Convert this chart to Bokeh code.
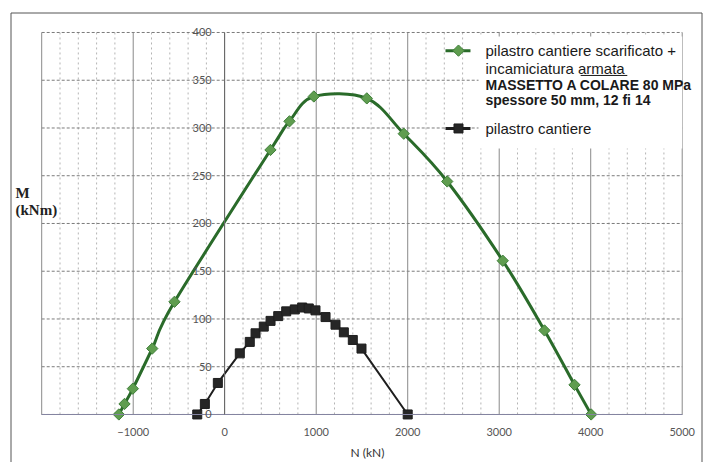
from bokeh.plotting import figure
from bokeh.models import LinearAxis, FixedTicker, Label
from bokeh.embed import file_html
from bokeh.resources import INLINE

# ---------------- data ----------------
green_N = [-1157, -1095, -1004, -792, -549, 500, 708, 974, 1553, 1957, 2432, 3039, 3495, 3823, 4005]
green_M = [0, 11, 27, 69, 118, 277, 307, 333, 331, 294, 244, 161, 88, 31, 0]

black_N = [-300, -217, -75, 165, 274, 337, 427, 501, 585, 672, 766, 847, 919, 992,
           1102, 1211, 1302, 1400, 1495, 2000]
black_M = [0, 11, 33, 64, 76, 85, 92, 98, 103, 108, 110, 112, 111, 109,
           102, 94, 86, 78, 69, 0]

x_tick_labels = [-1000, 0, 1000, 2000, 3000, 4000, 5000]
x_major_grid = [-2000, -1000, 0, 1000, 2000, 3000, 4000, 5000]
x_minor_grid = [v for v in range(-2000, 5001, 200) if v % 1000 != 0]
y_ticks = [0, 50, 100, 150, 200, 250, 300, 350, 400]
N_MIN, N_MAX = -2000, 5000
M_MIN, M_MAX = 0, 400

green_label_lines = ["pilastro cantiere scarificato +", "incamiciatura armata",
                     "MASSETTO A COLARE 80 MPa", "spessore 50 mm, 12 fi 14"]
black_label = "pilastro cantiere"

GREEN_LINE = "#2a6b2a"
GREEN_FILL = "#5f9d4f"
BLACK = "#1e1e1e"

# the frame covers the whole canvas; the chart box -2000..5000 x 0..400 sits inside it
p = figure(width=706, height=462, x_range=(-2450.3, 5265.5), y_range=(-50.3, 433.5),
           output_backend="svg", toolbar_location=None,
           x_axis_location=None, y_axis_location=None,
           min_border=0, min_border_left=0, min_border_right=0,
           min_border_top=0, min_border_bottom=0,
           background_fill_color="white", border_fill_color="white",
           outline_line_color=None)
p.grid.visible = False

# outer frame of the picture
p.quad(left=[-2335.5], right=[5216.4], bottom=[-70], top=[420.4],
       fill_color=None, line_color="#555555", line_width=1)

# grid lines
p.segment(x0=x_minor_grid, y0=[M_MIN] * len(x_minor_grid), x1=x_minor_grid, y1=[M_MAX] * len(x_minor_grid),
          line_color="#b4b4b4", line_dash="2 3", line_width=1)
p.segment(x0=[N_MIN] * len(y_ticks), y0=y_ticks, x1=[N_MAX] * len(y_ticks), y1=y_ticks,
          line_color="#7c7c7c", line_dash="3 2", line_width=1)
p.segment(x0=x_major_grid, y0=[M_MIN] * len(x_major_grid), x1=x_major_grid, y1=[M_MAX] * len(x_major_grid),
          line_color="#8a8a8a", line_width=1)

# axes through the origin
yaxis = LinearAxis(fixed_location=0, bounds=(M_MIN, M_MAX), ticker=FixedTicker(ticks=y_ticks),
                   axis_line_color="#6a6a6a", major_tick_line_color=None, minor_tick_line_color=None,
                   major_label_text_font="Lato", major_label_text_font_size="11px",
                   major_label_text_color="#555555", major_label_standoff=7)
p.add_layout(yaxis, "left")
xaxis = LinearAxis(fixed_location=0, bounds=(N_MIN, N_MAX), ticker=FixedTicker(ticks=x_tick_labels),
                   axis_line_color="#8484a0", major_tick_line_color=None, minor_tick_line_color=None,
                   major_label_text_font="Lato", major_label_text_font_size="11px",
                   major_label_text_color="#555555", major_label_standoff=8)
p.add_layout(xaxis, "below")

# x axis title
p.add_layout(Label(x=1561, y=-39.8, text="N (kN)", text_font="Lato", text_font_size="12px",
                   text_color="#333333", text_baseline="middle", text_align="center"))

# legend background (covers the grid)
p.quad(left=[2774], right=[N_MAX], bottom=[278.5], top=[395.8],
       fill_color="white", line_color=None)

# green series: smoothed (Catmull-Rom -> cubic Bezier) through the points
n = len(green_N)
x0s, y0s, x1s, y1s, cx0, cy0, cx1, cy1 = [], [], [], [], [], [], [], []
for i in range(n - 1):
    pa = (green_N[i - 1], green_M[i - 1]) if i > 0 else (green_N[i], green_M[i])
    pb = (green_N[i], green_M[i])
    pc = (green_N[i + 1], green_M[i + 1])
    pd = (green_N[i + 2], green_M[i + 2]) if i + 2 < n else pc
    x0s.append(pb[0]); y0s.append(pb[1]); x1s.append(pc[0]); y1s.append(pc[1])
    cx0.append(pb[0] + (pc[0] - pa[0]) / 6.0); cy0.append(pb[1] + (pc[1] - pa[1]) / 6.0)
    cx1.append(pc[0] - (pd[0] - pb[0]) / 6.0); cy1.append(pc[1] - (pd[1] - pb[1]) / 6.0)
p.bezier(x0=x0s, y0=y0s, x1=x1s, y1=y1s, cx0=cx0, cy0=cy0, cx1=cx1, cy1=cy1,
         line_color=GREEN_LINE, line_width=3)
p.scatter(green_N, green_M, marker="square", angle=0.785398, size=8,
          fill_color=GREEN_FILL, line_color="#3f7f3a", line_width=1)

# black series
p.line(black_N, black_M, line_color=BLACK, line_width=2)
p.scatter(black_N, black_M, marker="square", size=9, fill_color="#262626", line_color=BLACK)

# legend (drawn by hand: mixed bold/normal/underlined text)
p.line([2413, 2686], [381, 381], line_color=GREEN_LINE, line_width=3)
p.scatter([2555], [381], marker="square", angle=0.785398, size=8,
          fill_color=GREEN_FILL, line_color="#3f7f3a")
p.line([2413, 2686], [299.5, 299.5], line_color=BLACK, line_width=3)
p.scatter([2555], [299.5], marker="square", size=9, fill_color="#262626", line_color=BLACK)

leg_y = [381, 362.3, 344.5, 328.8]
leg_style = ["normal", "normal", "bold", "bold"]
leg_size = ["15px", "15px", "14px", "14px"]
for txt, yy, st, sz in zip(green_label_lines, leg_y, leg_style, leg_size):
    p.add_layout(Label(x=2850, y=yy, text=txt, text_font="Liberation Sans", text_font_size=sz,
                       text_font_style=st, text_color="#1a1a1a",
                       text_baseline="middle", text_align="left"))
p.add_layout(Label(x=2850, y=299.5, text=black_label, text_font="Liberation Sans",
                   text_font_size="15px", text_color="#1a1a1a",
                   text_baseline="middle", text_align="left"))
# underline of "armata"
p.line([3890, 4400], [355.0, 355.0], line_color="#1a1a1a", line_width=1)

# y axis title at left
p.add_layout(Label(x=-2286, y=231.4, text="M", text_font="Liberation Serif", text_font_size="15px",
                   text_font_style="bold", text_color="#222222",
                   text_baseline="middle", text_align="left"))
p.add_layout(Label(x=-2286, y=213.6, text="(kNm)", text_font="Liberation Serif", text_font_size="15px",
                   text_font_style="bold", text_color="#222222",
                   text_baseline="middle", text_align="left"))

open("out.html", "w").write(file_html(p, INLINE))
